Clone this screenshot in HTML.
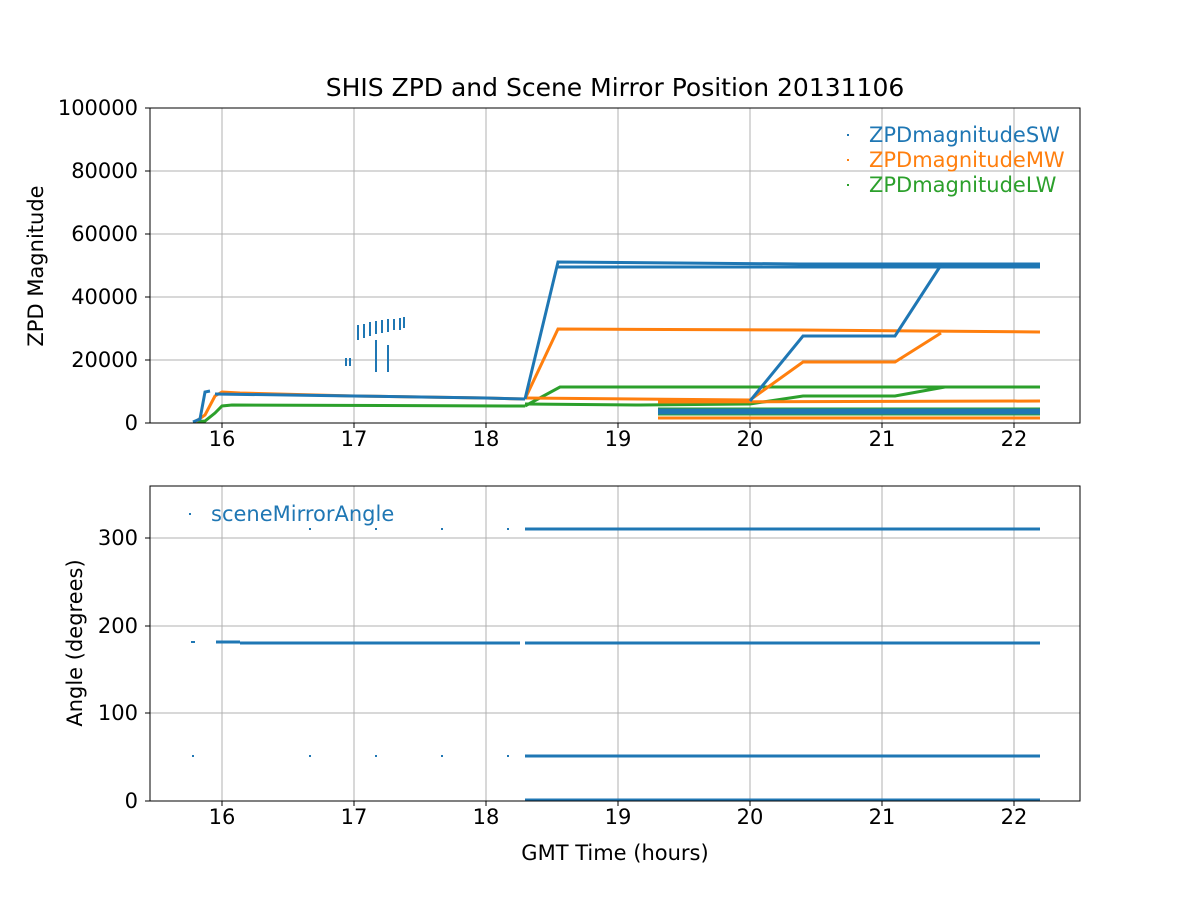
<!DOCTYPE html>
<html><head><meta charset="utf-8"><style>body{margin:0;background:#fff}svg{display:block}text{font-family:"DejaVu Sans","Liberation Sans",sans-serif}</style></head><body>
<svg width="1200" height="900" xmlns="http://www.w3.org/2000/svg">
<rect width="1200" height="900" fill="#fff"/>
<g stroke="#b0b0b0" stroke-width="1">
<line x1="222" y1="108" x2="222" y2="423"/><line x1="354" y1="108" x2="354" y2="423"/><line x1="486" y1="108" x2="486" y2="423"/><line x1="618" y1="108" x2="618" y2="423"/><line x1="750" y1="108" x2="750" y2="423"/><line x1="882" y1="108" x2="882" y2="423"/><line x1="1014" y1="108" x2="1014" y2="423"/>
<line x1="150" y1="360" x2="1080" y2="360"/><line x1="150" y1="297" x2="1080" y2="297"/><line x1="150" y1="234" x2="1080" y2="234"/><line x1="150" y1="171" x2="1080" y2="171"/>
<line x1="222" y1="486" x2="222" y2="801"/><line x1="354" y1="486" x2="354" y2="801"/><line x1="486" y1="486" x2="486" y2="801"/><line x1="618" y1="486" x2="618" y2="801"/><line x1="750" y1="486" x2="750" y2="801"/><line x1="882" y1="486" x2="882" y2="801"/><line x1="1014" y1="486" x2="1014" y2="801"/>
<line x1="150" y1="713" x2="1080" y2="713"/><line x1="150" y1="626" x2="1080" y2="626"/><line x1="150" y1="538" x2="1080" y2="538"/>
</g>
<g fill="none" stroke-width="3">
<g stroke="#2ca02c">
<polyline points="193,422 205,421 215,413 222,406 232,405 525,406"/>
<polyline points="525,406 560,387 1040,387"/>
<polyline points="525,404 640,405 750,404 803,396 895,396 945,387"/>
<polyline points="658,409 1040,409"/><polyline points="658,414 1040,414"/>
</g>
<g stroke="#ff7f0e">
<polyline points="195,422 205,415 215,396 222,392 240,393 354,396 486,398 525,399"/>
<polyline points="525,399 558,329 800,330 1040,332"/>
<polyline points="525,398 750,400 803,362 895,362 941,333"/>
<polyline points="658,402 1040,401"/><polyline points="658,418 1040,418"/>
</g>
<g stroke="#1f77b4">
<polyline points="193,422 200,419 205,392 210,391"/>
<polyline points="215,394 354,396 486,398 525,399"/>
<polyline points="525,399 558,262 800,264 1040,264"/>
<polyline points="558,267 1040,267"/>
<polyline points="750,401 803,336 895,336 941,265"/>
<polyline points="658,413 1040,413"/><polyline points="658,410 1040,410"/>
</g>
</g>
<g stroke="#1f77b4" stroke-width="2">
<line x1="358" y1="325" x2="358" y2="340"/><line x1="364" y1="324" x2="364" y2="338"/><line x1="370" y1="322" x2="370" y2="336"/><line x1="376" y1="321" x2="376" y2="334"/><line x1="382" y1="320" x2="382" y2="333"/><line x1="388" y1="319" x2="388" y2="332"/><line x1="394" y1="319" x2="394" y2="330"/><line x1="400" y1="318" x2="400" y2="330"/><line x1="404" y1="317" x2="404" y2="328"/>
<line x1="388" y1="345" x2="388" y2="372"/><line x1="376" y1="340" x2="376" y2="372"/><line x1="346" y1="358" x2="346" y2="366"/><line x1="350" y1="358" x2="350" y2="366"/>
</g>
<rect x="150" y="108" width="930" height="315" fill="none" stroke="#000"/>
<g font-size="21" text-anchor="middle">
<text x="222" y="446">16</text><text x="354" y="446">17</text><text x="486" y="446">18</text><text x="618" y="446">19</text><text x="750" y="446">20</text><text x="882" y="446">21</text><text x="1014" y="446">22</text>
</g>
<g font-size="21" text-anchor="end">
<text x="138" y="430">0</text><text x="138" y="367">20000</text><text x="138" y="304">40000</text><text x="138" y="241">60000</text><text x="138" y="178">80000</text><text x="138" y="115">100000</text>
</g>
<g stroke="#000"><line x1="145" y1="423" x2="150" y2="423"/><line x1="145" y1="360" x2="150" y2="360"/><line x1="145" y1="297" x2="150" y2="297"/><line x1="145" y1="234" x2="150" y2="234"/><line x1="145" y1="171" x2="150" y2="171"/><line x1="145" y1="108" x2="150" y2="108"/></g>
<text x="615" y="96" font-size="25" text-anchor="middle">SHIS ZPD and Scene Mirror Position 20131106</text>
<text transform="translate(43,266) rotate(-90)" font-size="21" text-anchor="middle">ZPD Magnitude</text>
<g font-size="21"><rect x="847" y="134" width="2" height="2" fill="#1f77b4"/><text x="869" y="142" fill="#1f77b4">ZPDmagnitudeSW</text>
<rect x="847" y="159" width="2" height="2" fill="#ff7f0e"/><text x="869" y="167" fill="#ff7f0e">ZPDmagnitudeMW</text>
<rect x="847" y="184" width="2" height="2" fill="#2ca02c"/><text x="869" y="192" fill="#2ca02c">ZPDmagnitudeLW</text></g>
<g stroke="#1f77b4" stroke-width="3">
<line x1="216" y1="642" x2="240" y2="642"/><line x1="240" y1="643" x2="520" y2="643"/><line x1="525" y1="643" x2="1040" y2="643"/>
<line x1="525" y1="529" x2="1040" y2="529"/><line x1="525" y1="756" x2="1040" y2="756"/><line x1="525" y1="800" x2="1040" y2="800"/>
</g>
<g fill="#1f77b4">
<rect x="191" y="641" width="4" height="2"/><rect x="192" y="755" width="2" height="2"/>
<rect x="309" y="528" width="2" height="2"/><rect x="375" y="528" width="2" height="2"/><rect x="441" y="528" width="2" height="2"/><rect x="507" y="528" width="2" height="2"/>
<rect x="309" y="755" width="2" height="2"/><rect x="375" y="755" width="2" height="2"/><rect x="441" y="755" width="2" height="2"/><rect x="507" y="755" width="2" height="2"/>
<rect x="189" y="513" width="2" height="2"/>
</g>
<text x="211" y="521" font-size="21" fill="#1f77b4">sceneMirrorAngle</text>
<rect x="150" y="486" width="930" height="315" fill="none" stroke="#000"/>
<g font-size="21" text-anchor="middle">
<text x="222" y="824">16</text><text x="354" y="824">17</text><text x="486" y="824">18</text><text x="618" y="824">19</text><text x="750" y="824">20</text><text x="882" y="824">21</text><text x="1014" y="824">22</text>
</g>
<g font-size="21" text-anchor="end"><text x="138" y="808">0</text><text x="138" y="720">100</text><text x="138" y="633">200</text><text x="138" y="545">300</text></g>
<g stroke="#000"><line x1="145" y1="801" x2="150" y2="801"/><line x1="145" y1="713" x2="150" y2="713"/><line x1="145" y1="626" x2="150" y2="626"/><line x1="145" y1="538" x2="150" y2="538"/>
<line x1="222" y1="423" x2="222" y2="428"/><line x1="354" y1="423" x2="354" y2="428"/><line x1="486" y1="423" x2="486" y2="428"/><line x1="618" y1="423" x2="618" y2="428"/><line x1="750" y1="423" x2="750" y2="428"/><line x1="882" y1="423" x2="882" y2="428"/><line x1="1014" y1="423" x2="1014" y2="428"/>
<line x1="222" y1="801" x2="222" y2="806"/><line x1="354" y1="801" x2="354" y2="806"/><line x1="486" y1="801" x2="486" y2="806"/><line x1="618" y1="801" x2="618" y2="806"/><line x1="750" y1="801" x2="750" y2="806"/><line x1="882" y1="801" x2="882" y2="806"/><line x1="1014" y1="801" x2="1014" y2="806"/></g>
<text x="615" y="860" font-size="21" text-anchor="middle">GMT Time (hours)</text>
<text transform="translate(82,643) rotate(-90)" font-size="21" text-anchor="middle">Angle (degrees)</text>
</svg>
</body></html>
